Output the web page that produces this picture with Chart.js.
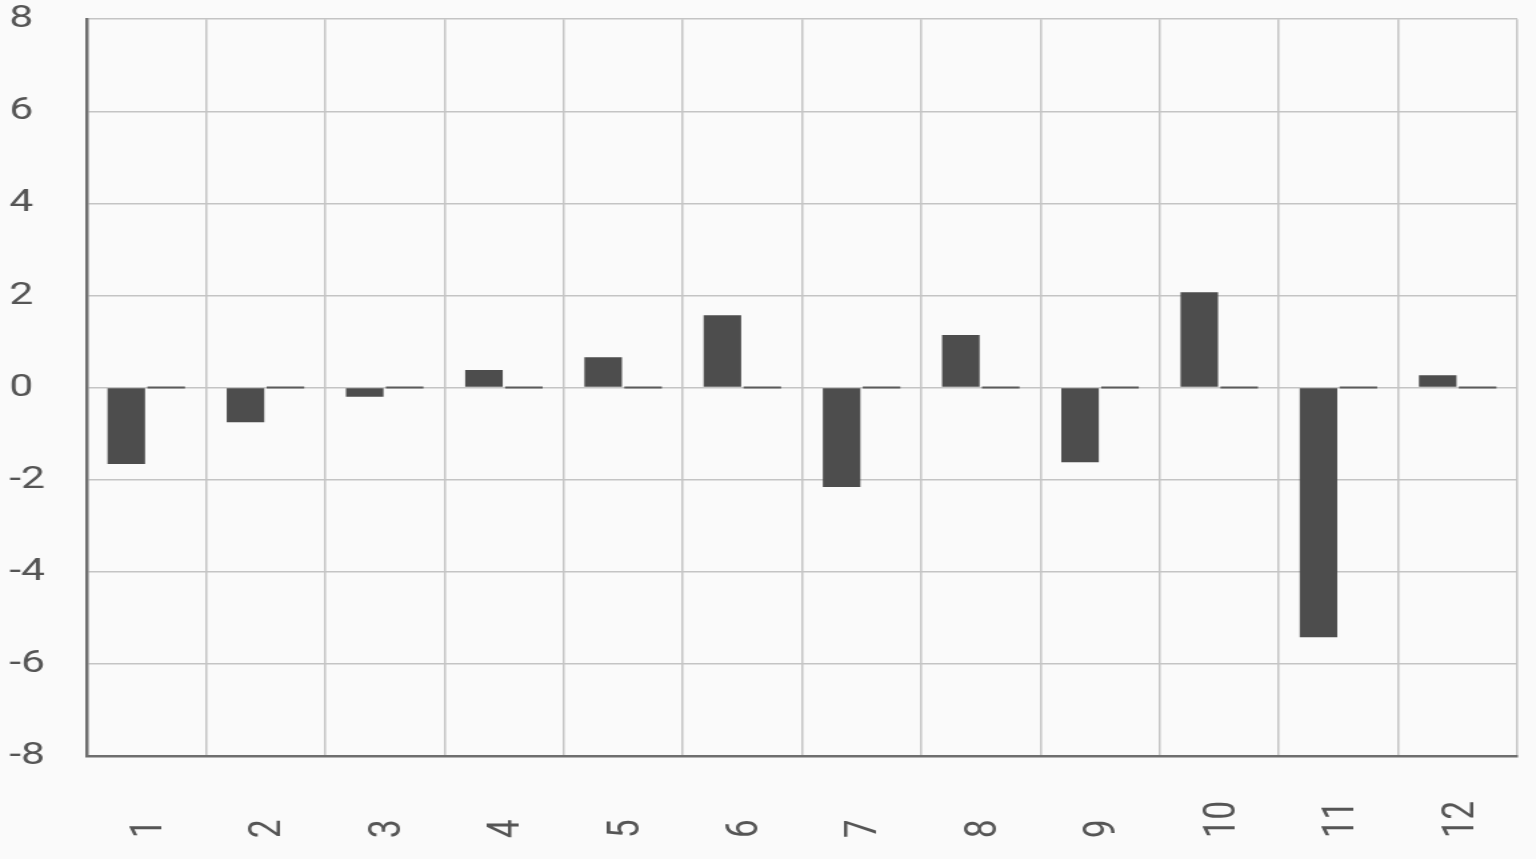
<!DOCTYPE html>
<html lang="en">
<head>
  <meta charset="UTF-8" />
  <title>Bar chart</title>
  <script src="https://cdn.jsdelivr.net/npm/chart.js"></script>
  <style>
    html, body { margin: 0; padding: 0; background: #fafafa; overflow: hidden; }
    /* chart is drawn at 1152 wide and shown stretched to the full window, like the reference */
    #chart { display: block; width: 1536px !important; height: 859px !important; }
  </style>
</head>
<body>
  <canvas id="chart" width="1152" height="859"></canvas>
  <script>
    const categories = ['1', '2', '3', '4', '5', '6', '7', '8', '9', '10', '11', '12'];
    const seriesA = [-1.66, -0.75, -0.2, 0.38, 0.66, 1.57, -2.16, 1.14, -1.62, 2.07, -5.42, 0.27];
    const seriesB = [0, 0, 0, 0, 0, 0, 0, 0, 0, 0, 0, 0];
    const yTicks = [-8, -6, -4, -2, 0, 2, 4, 6, 8];

    const axisColor = '#6e6e6e';
    const gridColor = '#c4c4c4';
    const textColor = '#555555';

    new Chart(document.getElementById('chart'), {
      type: 'bar',
      data: {
        labels: categories,
        datasets: [{
          label: 'Series 1',
          data: seriesA,
          backgroundColor: '#4d4d4d',
          categoryPercentage: 0.67,
          barPercentage: 0.94
        }, {
          label: 'Series 2',
          data: seriesB,
          backgroundColor: '#5a5a5a',
          minBarLength: 2,
          categoryPercentage: 0.67,
          barPercentage: 0.94
        }]
      },
      options: {
        responsive: false,
        animation: false,
        layout: { padding: { left: 7, right: 14, top: 19, bottom: 0 } },
        plugins: {
          legend: { display: false },
          tooltip: { enabled: false }
        },
        scales: {
          x: {
            grid: { color: gridColor, lineWidth: 1.5, drawTicks: false },
            border: { color: axisColor, width: 2.5 },
            ticks: {
              color: textColor,
              font: { family: 'Roboto', size: 33 },
              minRotation: 90,
              maxRotation: 90,
              padding: 45,
              labelOffset: 3,
              // pad one-digit labels so every label starts at the same bottom line
              callback: function (value, index) {
                const s = categories[index];
                return s.length < 2 ? s + '\u2007' : s;
              }
            },
            afterFit: function (scale) {
              scale.height = 103;
              scale.paddingLeft = 0;
              scale.paddingRight = 0;
            }
          },
          y: {
            min: yTicks[0],
            max: yTicks[yTicks.length - 1],
            grid: { color: gridColor, lineWidth: 1.5, drawTicks: false },
            border: { color: axisColor, width: 2.5 },
            ticks: {
              color: textColor,
              font: { family: 'Roboto', size: 32 },
              stepSize: 2,
              crossAlign: 'far',
              padding: 0
            },
            afterBuildTicks: function (scale) {
              scale.ticks = yTicks.map(v => ({ value: v }));
            },
            afterFit: function (scale) { scale.width = 58; }
          }
        }
      }
    });
  </script>
</body>
</html>
